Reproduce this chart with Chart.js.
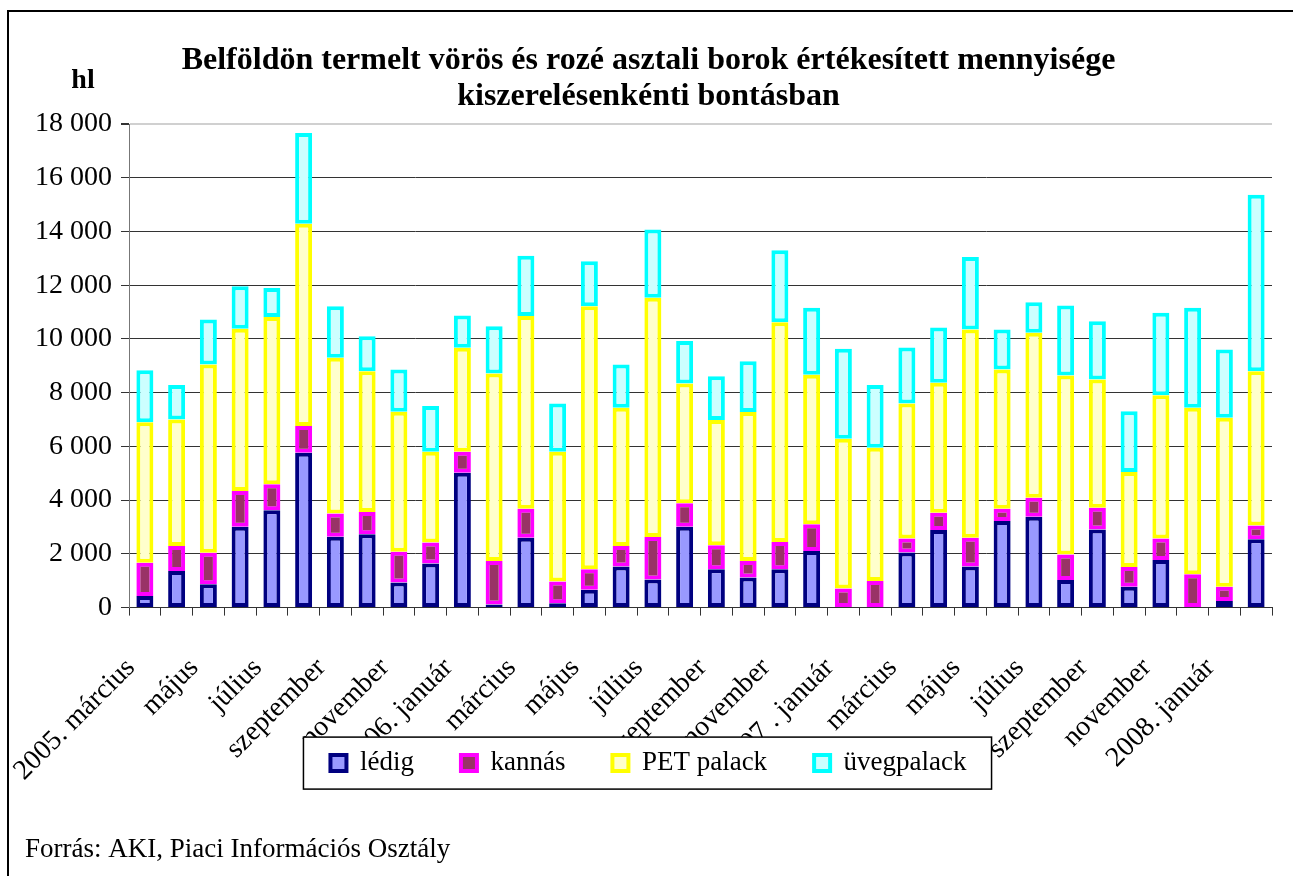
<!DOCTYPE html>
<html lang="hu">
<head>
  <meta charset="UTF-8">
  <title>Vörös és rozé asztali borok kiszerelésenként</title>
  <script src="https://cdn.jsdelivr.net/npm/chart.js"></script>
  <style>
    html, body {
      margin: 0;
      padding: 0;
      background: #fff;
      overflow: hidden;
    }
    #wrap {
      position: relative;
      width: 1293px;
      height: 876px;
    }
    #frame {
      position: absolute;
      left: 7px;
      top: 10px;
      width: 1400px;
      height: 1000px;
      border: 2px solid #000;
    }
    canvas {
      position: absolute;
      left: 0;
      top: 0;
    }
  </style>
</head>
<body>
<div id="wrap">
  <div id="frame"></div>
  <canvas id="wineChart" width="1293" height="876"></canvas>
</div>
<script>
  // months, 2005 March - 2008 February
  const months = [
    '2005. március', 'április', 'május', 'június', 'július', 'augusztus',
    'szeptember', 'október', 'november', 'december',
    '2006. január', 'február', 'március', 'április', 'május', 'június', 'július',
    'augusztus', 'szeptember', 'október', 'november', 'december',
    '2007 . január', 'február', 'március', 'április', 'május', 'június', 'július',
    'augusztus', 'szeptember', 'október', 'november', 'december',
    '2008. január', 'február'
  ];

  // hl
  const ledig = [430, 1360, 870, 3010, 3620, 5760, 2640, 2730, 930, 1640,
    5020, 120, 2600, 160, 660, 1530, 1050, 3010, 1430, 1120, 1430, 2110,
    0, 0, 2050, 2890, 1530, 3220, 3380, 1030, 2910, 780, 1770, 0,
    250, 2540];
  const kannas = [1240, 930, 1175, 1330, 970, 1000, 860, 830, 1150, 780,
    780, 1615, 1080, 810, 770, 760, 1580, 870, 890, 615, 1010, 990,
    710, 990, 520, 640, 1070, 460, 710, 950, 810, 730, 800, 1240,
    530, 520];
  const petPalack = [5230, 4710, 7005, 6040, 6230, 7530, 5800, 5240, 5210, 3380,
    3870, 6980, 7170, 4830, 9790, 5150, 8900, 4460, 4660, 5545, 8180, 5565,
    5575, 4960, 5030, 4840, 7750, 5180, 6140, 6660, 4770, 3535, 5330, 6200,
    6290, 5740];
  const uvegPalack = [1935, 1290, 1670, 1580, 1080, 3375, 1920, 1300, 1570, 1700,
    1200, 1760, 2250, 1800, 1670, 1610, 2540, 1580, 1635, 1890, 2680, 2495,
    3345, 2340, 2080, 2055, 2700, 1490, 1140, 2600, 2170, 2265, 3070, 3720,
    2540, 6570];

  const yTicks = [0, 2000, 4000, 6000, 8000, 10000, 12000, 14000, 16000, 18000];

  const serif = '"Liberation Serif", "Times New Roman", serif';
  Chart.defaults.font.family = serif;
  Chart.defaults.color = '#000';

  const fmt = v => String(v).replace(/\B(?=(\d{3})+(?!\d))/g, ' ');

  // "hl" unit over the value axis
  const unitLabel = {
    id: 'unitLabel',
    afterDraw(chart) {
      const ctx = chart.ctx;
      ctx.save();
      ctx.font = 'bold 28px ' + serif;
      ctx.fillStyle = '#000';
      ctx.textAlign = 'center';
      ctx.textBaseline = 'middle';
      ctx.fillText('hl', chart.chartArea.left - 46, chart.chartArea.top - 43);
      ctx.restore();
    }
  };

  // let the rotated month labels run below the x axis box (legend covers them)
  const labelRoom = {
    id: 'labelRoom',
    afterLayout(chart) {
      chart.scales.x.bottom = chart.height;
    }
  };

  // framed legend drawn over the rotated month labels
  const legendBox = {
    id: 'legendBox',
    afterDraw(chart) {
      const lg = chart.legend;
      const hb = lg.legendHitBoxes;
      if (!hb || !hb.length) return;
      const first = hb[0], last = hb[hb.length - 1];
      const x1 = first.left - 27;
      const x2 = last.left + last.width + 25;
      const cy = first.top + first.height / 2;
      const ctx = chart.ctx;
      ctx.save();
      ctx.fillStyle = '#fff';
      ctx.fillRect(x1, cy - 26, x2 - x1, 52);
      ctx.strokeStyle = '#000';
      ctx.lineWidth = 1.5;
      ctx.strokeRect(x1, cy - 26, x2 - x1, 52);
      ctx.restore();
      lg.draw();
    }
  };

  const ctx = document.getElementById('wineChart').getContext('2d');
  const chart = new Chart(ctx, {
    type: 'bar',
    data: {
      labels: months,
      datasets: [
        { label: 'lédig', data: ledig, backgroundColor: '#9999FF', borderColor: '#000080' },
        { label: 'kannás', data: kannas, backgroundColor: '#993366', borderColor: '#FF00FF' },
        { label: 'PET palack', data: petPalack, backgroundColor: '#FFFFCC', borderColor: '#FFFF00' },
        { label: 'üvegpalack', data: uvegPalack, backgroundColor: '#CCFFFF', borderColor: '#00FFFF' }
      ]
    },
    options: {
      responsive: false,
      animation: false,
      datasets: {
        bar: {
          borderWidth: 4,
          borderSkipped: false,
          barPercentage: 0.535,
          categoryPercentage: 1
        }
      },
      layout: { padding: { left: 25, right: 21, top: 0, bottom: 0 } },
      scales: {
        x: {
          stacked: true,
          afterFit: axis => {
            axis.height = 95;
            axis.paddingLeft = 0;
            axis.paddingRight = 0;
          },
          grid: { drawOnChartArea: false, tickLength: 8, color: '#333', offset: true },
          border: { color: '#333', width: 1 },
          ticks: {
            autoSkip: false,
            minRotation: 45,
            maxRotation: 45,
            padding: 36,
            labelOffset: -14,
            font: { size: 28 },
            callback: (v, i) => (i % 2 === 0 ? months[i] : '')
          }
        },
        y: {
          stacked: true,
          min: 0,
          max: 18000,
          afterFit: axis => { axis.width = 104; },
          afterBuildTicks: axis => { axis.ticks = yTicks.map(v => ({ value: v })); },
          grid: {
            tickLength: 8,
            color: c => (c.tick && c.tick.value === 18000 ? '#d0d0d0' : '#333'),
            lineWidth: c => (c.tick && c.tick.value === 18000 ? 2 : 1),
            tickColor: '#333'
          },
          border: { color: '#777', width: 1 },
          ticks: { padding: 9, font: { size: 28 }, callback: v => fmt(v) }
        }
      },
      plugins: {
        tooltip: { enabled: false },
        title: {
          display: true,
          text: ['Belföldön termelt vörös és rozé asztali borok értékesített mennyisége',
                 'kiszerelésenkénti bontásban'],
          font: { size: 32, weight: 'bold', lineHeight: 1.125 },
          color: '#000',
          padding: { top: 43, bottom: 9 }
        },
        legend: {
          position: 'bottom',
          labels: {
            boxWidth: 16,
            boxHeight: 16,
            padding: 47,
            font: { size: 27 },
            color: '#000'
          }
        },
        subtitle: {
          display: true,
          position: 'bottom',
          align: 'start',
          text: 'Forrás: AKI, Piaci Információs Osztály',
          font: { size: 27, lineHeight: 1.2 },
          color: '#000',
          padding: { top: 47, bottom: 10 }
        }
      }
    },
    plugins: [unitLabel, labelRoom, legendBox]
  });
</script>
</body>
</html>
